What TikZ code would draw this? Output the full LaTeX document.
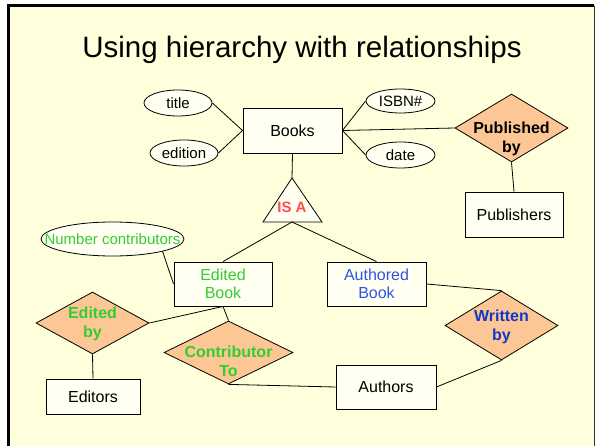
\documentclass[tikz,border=0pt]{standalone}
\usepackage{fontspec}
\setmainfont{Liberation Sans}
\usetikzlibrary{shapes.geometric}
\definecolor{bgy}{HTML}{FFFFDC}
\definecolor{boxf}{HTML}{FFFFF2}
\definecolor{peach}{HTML}{FCC794}
\definecolor{grn}{HTML}{33CC33}
\definecolor{isred}{HTML}{FF4D4D}
\definecolor{blu}{HTML}{2F55E6}
\definecolor{dblu}{HTML}{1238C8}
\newcommand\zwbox[1]{\makebox[0pt]{#1}}
\tikzset{
  lbl/.style={font=\fontsize{16}{18}\selectfont, align=center, inner sep=0pt},
  ent/.style={draw, line width=0.9pt, fill=boxf, rectangle, inner sep=0pt, lbl},
  attr/.style={draw, line width=0.8pt, fill=boxf, ellipse, inner sep=0pt, lbl, font=\fontsize{15}{18}\selectfont},
  rel/.style={draw, line width=0.8pt, fill=peach, diamond, inner sep=0pt},
  reltext/.style={lbl, font=\fontsize{16}{19}\selectfont\bfseries},
  conn/.style={line width=0.8pt}
}
\begin{document}
\begin{tikzpicture}[x=1pt,y=-1pt]
\useasboundingbox (0,0) rectangle (596,446);
% frame
\fill[white] (0,0) rectangle (596,446);
\fill[bgy] (8,6) rectangle (595,446);
\draw[line width=3pt] (8,446) -- (8,6) -- (594,6);
\draw[line width=1pt, black!80] (594.5,6) -- (594.5,446);
% title
\node[font=\fontsize{29.5}{34}\selectfont, anchor=base, inner sep=0pt] (ttl) at (302,58) {Using hierarchy with relationships};
% entities
\node[ent, minimum width=99pt, minimum height=45pt] (books) at (292.5,130.5) {Books};
\node[ent, minimum width=98pt, minimum height=45pt] (pubs) at (514,214.5) {Publishers};
\node[ent, minimum width=98pt, minimum height=44pt, text=grn] (eb) at (223,284) {Edited\\Book};
\node[ent, minimum width=99pt, minimum height=44pt, text=blu] (ab) at (376.5,284) {Authored\\Book};
\node[ent, minimum width=94pt, minimum height=35pt] (eds) at (93,396.5) {Editors};
\node[ent, minimum width=100pt, minimum height=44pt] (aut) at (386,387) {Authors};
% attributes
\node[attr, minimum width=68pt, minimum height=26pt] (title) at (178,103) {\zwbox{title}};
\node[attr, minimum width=68pt, minimum height=26pt] (edition) at (184,153) {\zwbox{edition}};
\node[attr, minimum width=69pt, minimum height=24pt] (isbn) at (400.5,101) {\zwbox{ISBN\#}};
\node[attr, minimum width=69pt, minimum height=26pt] (date) at (400.5,155) {\zwbox{date}};
\node[attr, minimum width=143pt, minimum height=34pt, text=grn] (nc) at (112.5,239) {\zwbox{Number contributors}};
% relationships
\node[rel, minimum width=113pt, minimum height=68pt] (pb) at (511.5,128) {};
\node[reltext] (pbt) at (511.5,138.5) {Published\\by};
\node[rel, minimum width=113pt, minimum height=62pt] (edb) at (92.5,323) {};
\node[reltext, text=grn] (edbt) at (92.5,323.5) {Edited\\by};
\node[rel, minimum width=129pt, minimum height=63pt] (ct) at (228.5,352.5) {};
\node[reltext, text=grn] (ctt) at (228.5,361) {Contributor\\To};
\node[rel, minimum width=113pt, minimum height=69pt] (wb) at (501.5,325.5) {};
\node[reltext, text=dblu] (wbt) at (501.5,326.5) {Written\\by};
% IS A triangle
\coordinate (isaTop) at (292,178);
\coordinate (isaL) at (263,222);
\coordinate (isaR) at (322,222);
\coordinate (isaBase) at (292,222);
\draw[line width=0.8pt, fill=boxf] (isaTop) -- (isaL) -- (isaR) -- cycle;
\node[reltext, text=isred, font=\fontsize{15}{18}\selectfont\bfseries] (isa) at (292,207) {IS A};
% connectors
\draw[conn] (title.east) -- (books.west);
\draw[conn] (edition.east) -- (books.west);
\draw[conn] (isbn.west) -- (books.east);
\draw[conn] (date.west) -- (books.east);
\draw[conn] (books.east) -- (pb.west);
\draw[conn] (pb.south) -- (pubs.north);
\draw[conn] (books.south) -- (isaTop);
\draw[conn] (isaBase) -- (eb.north);
\draw[conn] (isaBase) -- (ab.north);
\draw[conn] (nc.-14) -- (eb.west);
\draw[conn] (edb.east) -- (eb.south);
\draw[conn] (edb.south) -- (eds.north);
\draw[conn] (eb.south) -- (ct.north);
\draw[conn] (ct.south) -- (aut.west);
\draw[conn] (ab.east) -- (wb.north);
\draw[conn] (wb.south) -- (aut.east);
\end{tikzpicture}
\end{document}
